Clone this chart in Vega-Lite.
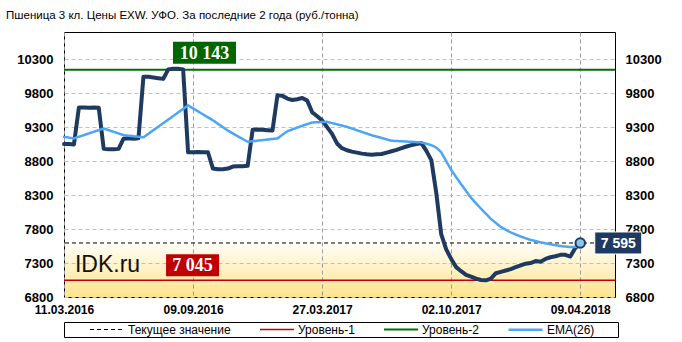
{
  "$schema": "https://vega.github.io/schema/vega-lite/v6.json",
  "width": 551,
  "height": 265,
  "autosize": {"type": "none"},
  "padding": {"left": 64, "top": 32, "right": 67, "bottom": 45},
  "background": "white",
  "title": {
    "text": "Пшеница  3 кл. Цены EXW. УФО. За последние 2 года (руб./тонна)",
    "anchor": "start",
    "frame": "group",
    "dx": -58,
    "offset": 11,
    "font": "Liberation Sans",
    "fontSize": 11.5,
    "fontWeight": "normal",
    "color": "black"
  },
  "config": {
    "locale": {"number": {"decimal": ",", "thousands": " ", "grouping": [3], "currency": ["", ""]}},
    "view": {
      "stroke": "black",
      "strokeWidth": 1,
      "fill": {
        "gradient": "linear", "x1": 0, "y1": 0, "x2": 0, "y2": 1,
        "stops": [
          {"offset": 0, "color": "#FFFFFF"},
          {"offset": 0.78, "color": "#FFFFFF"},
          {"offset": 1, "color": "#FFE48C"}
        ]
      }
    },
    "axis": {
      "labelFont": "Liberation Sans",
      "labelFontWeight": "bold",
      "labelColor": "black",
      "labelFontSize": 12,
      "domain": false,
      "ticks": false,
      "gridColor": "#BFBFBF",
      "gridDash": [4, 3],
      "gridWidth": 1,
      "gridOpacity": 1
    },
    "axisX": {"grid": true, "gridColor": "#9A9A9A"},
    "legend": {
      "orient": "none",
      "legendX": 0,
      "legendY": 290,
      "direction": "horizontal",
      "strokeColor": "black",
      "padding": 1,
      "symbolType": "M-3.4,0H3.4",
      "symbolSize": 100,
      "symbolOffset": 36,
      "labelFont": "Liberation Sans",
      "labelFontSize": 12,
      "labelColor": "black",
      "labelOffset": 15,
      "columnPadding": 4,
      "labelLimit": 300,
      "titleOrient": "right",
      "titlePadding": 23,
      "titleFontSize": 8
    }
  },
  "datasets": {
    "price": [
      {"i": 0, "v": 9050}, {"i": 1, "v": 9050}, {"i": 2, "v": 9045}, {"i": 3, "v": 9590}, {"i": 4, "v": 9590},
      {"i": 5, "v": 9585}, {"i": 6, "v": 9590}, {"i": 7, "v": 9585}, {"i": 8, "v": 8980}, {"i": 9, "v": 8975},
      {"i": 10, "v": 8975}, {"i": 11, "v": 8980}, {"i": 12, "v": 9130}, {"i": 13, "v": 9135}, {"i": 14, "v": 9130},
      {"i": 15, "v": 9135}, {"i": 16, "v": 10040}, {"i": 17, "v": 10040}, {"i": 18, "v": 10030}, {"i": 19, "v": 10020},
      {"i": 20, "v": 10010}, {"i": 21, "v": 10150}, {"i": 22, "v": 10160}, {"i": 23, "v": 10160}, {"i": 24, "v": 10150},
      {"i": 25, "v": 8930}, {"i": 26, "v": 8930}, {"i": 27, "v": 8935}, {"i": 28, "v": 8930}, {"i": 29, "v": 8930},
      {"i": 30, "v": 8690}, {"i": 31, "v": 8680}, {"i": 32, "v": 8680}, {"i": 33, "v": 8690}, {"i": 34, "v": 8720},
      {"i": 35, "v": 8725}, {"i": 36, "v": 8725}, {"i": 37, "v": 8730}, {"i": 38, "v": 9260}, {"i": 39, "v": 9265},
      {"i": 40, "v": 9260}, {"i": 41, "v": 9255}, {"i": 42, "v": 9250}, {"i": 43, "v": 9770}, {"i": 44, "v": 9760},
      {"i": 45, "v": 9720}, {"i": 46, "v": 9700}, {"i": 47, "v": 9710}, {"i": 48, "v": 9730}, {"i": 49, "v": 9690},
      {"i": 50, "v": 9520}, {"i": 51, "v": 9460}, {"i": 52, "v": 9400}, {"i": 53, "v": 9300}, {"i": 54, "v": 9200},
      {"i": 55, "v": 9060}, {"i": 56, "v": 8990}, {"i": 57, "v": 8960}, {"i": 58, "v": 8940}, {"i": 59, "v": 8925},
      {"i": 60, "v": 8910}, {"i": 61, "v": 8900}, {"i": 62, "v": 8895}, {"i": 63, "v": 8900}, {"i": 64, "v": 8905},
      {"i": 65, "v": 8925}, {"i": 66, "v": 8945}, {"i": 67, "v": 8965}, {"i": 68, "v": 8990}, {"i": 69, "v": 9015},
      {"i": 70, "v": 9035}, {"i": 71, "v": 9050}, {"i": 72, "v": 9065}, {"i": 73, "v": 8950}, {"i": 74, "v": 8815},
      {"i": 75, "v": 8330}, {"i": 76, "v": 7720}, {"i": 77, "v": 7500}, {"i": 78, "v": 7360}, {"i": 79, "v": 7240},
      {"i": 80, "v": 7180}, {"i": 81, "v": 7125}, {"i": 82, "v": 7100}, {"i": 83, "v": 7070}, {"i": 84, "v": 7050},
      {"i": 85, "v": 7045}, {"i": 86, "v": 7070}, {"i": 87, "v": 7150}, {"i": 88, "v": 7170}, {"i": 89, "v": 7190},
      {"i": 90, "v": 7210}, {"i": 91, "v": 7240}, {"i": 92, "v": 7265}, {"i": 93, "v": 7290}, {"i": 94, "v": 7300},
      {"i": 95, "v": 7330}, {"i": 96, "v": 7320}, {"i": 97, "v": 7360}, {"i": 98, "v": 7385}, {"i": 99, "v": 7400},
      {"i": 100, "v": 7420}, {"i": 101, "v": 7420}, {"i": 102, "v": 7395}, {"i": 103, "v": 7520}, {"i": 104, "v": 7595}
    ],
    "ema": [
      {"name": "EMA(26)", "i": 0, "v": 9157}, {"name": "EMA(26)", "i": 2, "v": 9134}, {"name": "EMA(26)", "i": 8, "v": 9280},
      {"name": "EMA(26)", "i": 12, "v": 9182}, {"name": "EMA(26)", "i": 16, "v": 9150}, {"name": "EMA(26)", "i": 25, "v": 9620},
      {"name": "EMA(26)", "i": 30, "v": 9400}, {"name": "EMA(26)", "i": 33, "v": 9250}, {"name": "EMA(26)", "i": 37, "v": 9084},
      {"name": "EMA(26)", "i": 43, "v": 9134}, {"name": "EMA(26)", "i": 45, "v": 9240}, {"name": "EMA(26)", "i": 48, "v": 9320},
      {"name": "EMA(26)", "i": 50, "v": 9369}, {"name": "EMA(26)", "i": 53, "v": 9378}, {"name": "EMA(26)", "i": 57, "v": 9304},
      {"name": "EMA(26)", "i": 62, "v": 9180}, {"name": "EMA(26)", "i": 66, "v": 9100}, {"name": "EMA(26)", "i": 72, "v": 9075},
      {"name": "EMA(26)", "i": 74, "v": 9035}, {"name": "EMA(26)", "i": 75, "v": 9000}, {"name": "EMA(26)", "i": 76, "v": 8930},
      {"name": "EMA(26)", "i": 78, "v": 8670}, {"name": "EMA(26)", "i": 80, "v": 8460}, {"name": "EMA(26)", "i": 82, "v": 8260},
      {"name": "EMA(26)", "i": 84, "v": 8100}, {"name": "EMA(26)", "i": 86, "v": 7950}, {"name": "EMA(26)", "i": 88, "v": 7830},
      {"name": "EMA(26)", "i": 90, "v": 7750}, {"name": "EMA(26)", "i": 92, "v": 7690}, {"name": "EMA(26)", "i": 94, "v": 7640},
      {"name": "EMA(26)", "i": 96, "v": 7605}, {"name": "EMA(26)", "i": 98, "v": 7575}, {"name": "EMA(26)", "i": 100, "v": 7550},
      {"name": "EMA(26)", "i": 102, "v": 7535}, {"name": "EMA(26)", "i": 104, "v": 7540}
    ],
    "levels": [
      {"name": "Текущее значение", "v": 7595},
      {"name": "Уровень-1", "v": 7045},
      {"name": "Уровень-2", "v": 10143}
    ]
  },
  "layer": [
    {
      "data": {"name": "levels"},
      "mark": {"type": "rule"},
      "encoding": {
        "y": {"field": "v", "type": "quantitative", "title": null, "axis": null,
              "scale": {"domain": [6800, 10700], "nice": false, "zero": false}},
        "color": {"field": "name", "type": "nominal", "title": " ",
                  "scale": {"domain": ["Текущее значение", "Уровень-1", "Уровень-2", "EMA(26)"],
                            "range": ["#000000", "#C00000", "#007000", "#4DA6F5"]}},
        "strokeDash": {"field": "name", "type": "nominal", "title": " ",
                       "scale": {"domain": ["Текущее значение", "Уровень-1", "Уровень-2", "EMA(26)"],
                                 "range": [[4, 3], [1, 0], [1, 0], [1, 0]]}},
        "strokeWidth": {"field": "name", "type": "ordinal", "title": " ",
                        "scale": {"domain": ["Текущее значение", "Уровень-1", "Уровень-2", "EMA(26)"],
                                  "range": [1, 2.5, 2.5, 3]}}
      }
    },
    {
      "data": {"name": "price"},
      "mark": {"type": "line", "color": "#1F3A60", "strokeWidth": 4, "strokeJoin": "round", "strokeCap": "round"},
      "encoding": {
        "x": {"field": "i", "type": "quantitative", "title": null,
              "scale": {"domain": [0, 111], "nice": false, "zero": false},
              "axis": {"values": [0, 26, 52, 78, 104], "grid": true, "labelFlush": false, "labelPadding": 7, "labelAngle": 0,
                       "labelExpr": "datum.value == 0 ? '11.03.2016' : datum.value == 26 ? '09.09.2016' : datum.value == 52 ? '27.03.2017' : datum.value == 78 ? '02.10.2017' : '09.04.2018'"}},
        "y": {"field": "v", "type": "quantitative", "title": null,
              "axis": {"orient": "left", "values": [6800, 7300, 7800, 8300, 8800, 9300, 9800, 10300],
                       "format": "d", "grid": true, "labelPadding": 11, "labelFontSize": 13}}
      }
    },
    {
      "data": {"name": "ema"},
      "mark": {"type": "line", "strokeJoin": "round", "strokeCap": "round"},
      "encoding": {
        "x": {"field": "i", "type": "quantitative", "title": null,
              "axis": {"values": [0, 26, 52, 78, 104], "grid": true, "labelFlush": false, "labelPadding": 7, "labelAngle": 0,
                       "labelExpr": "datum.value == 0 ? '11.03.2016' : datum.value == 26 ? '09.09.2016' : datum.value == 52 ? '27.03.2017' : datum.value == 78 ? '02.10.2017' : '09.04.2018'"}},
        "y": {"field": "v", "type": "quantitative", "title": null,
              "axis": {"orient": "right", "values": [6800, 7300, 7800, 8300, 8800, 9300, 9800, 10300],
                       "format": "d", "grid": false, "labelPadding": 10, "labelFontSize": 13}},
        "color": {"field": "name", "type": "nominal", "title": " ",
                  "scale": {"domain": ["Текущее значение", "Уровень-1", "Уровень-2", "EMA(26)"],
                            "range": ["#000000", "#C00000", "#007000", "#4DA6F5"]}},
        "strokeDash": {"field": "name", "type": "nominal", "title": " ",
                       "scale": {"domain": ["Текущее значение", "Уровень-1", "Уровень-2", "EMA(26)"],
                                 "range": [[4, 3], [1, 0], [1, 0], [1, 0]]}},
        "strokeWidth": {"field": "name", "type": "ordinal", "title": " ",
                        "scale": {"domain": ["Текущее значение", "Уровень-1", "Уровень-2", "EMA(26)"],
                                  "range": [1, 2.5, 2.5, 3]}}
      }
    },
    {
      "data": {"name": "price"},
      "transform": [{"filter": "datum.i == 104"}],
      "mark": {"type": "point", "shape": "circle", "filled": true, "fill": "#8CC6E8", "stroke": "#1F3A60", "strokeWidth": 2, "size": 90, "opacity": 1},
      "encoding": {
        "x": {"field": "i", "type": "quantitative", "title": null,
              "axis": {"values": [0, 26, 52, 78, 104], "grid": true, "labelFlush": false, "labelPadding": 7, "labelAngle": 0,
                       "labelExpr": "datum.value == 0 ? '11.03.2016' : datum.value == 26 ? '09.09.2016' : datum.value == 52 ? '27.03.2017' : datum.value == 78 ? '02.10.2017' : '09.04.2018'"}},
        "y": {"field": "v", "type": "quantitative", "axis": null}
      }
    },
    {
      "data": {"name": "levels"},
      "transform": [{"filter": "datum.name == 'Уровень-2'"}],
      "mark": {"type": "rect", "width": 63, "height": 22, "yOffset": -17, "fill": "#006600"},
      "encoding": {
        "x": {"datum": 28.3, "type": "quantitative", "title": null,
              "axis": {"values": [0, 26, 52, 78, 104], "grid": true, "labelFlush": false, "labelPadding": 7, "labelAngle": 0,
                       "labelExpr": "datum.value == 0 ? '11.03.2016' : datum.value == 26 ? '09.09.2016' : datum.value == 52 ? '27.03.2017' : datum.value == 78 ? '02.10.2017' : '09.04.2018'"}},
        "y": {"field": "v", "type": "quantitative", "axis": null}
      }
    },
    {
      "data": {"name": "levels"},
      "transform": [{"filter": "datum.name == 'Уровень-2'"}],
      "mark": {"type": "text", "yOffset": -16, "color": "white", "font": "Liberation Serif", "fontWeight": "bold", "fontSize": 18, "baseline": "middle", "align": "center"},
      "encoding": {
        "x": {"datum": 28.3, "type": "quantitative", "title": null,
              "axis": {"values": [0, 26, 52, 78, 104], "grid": true, "labelFlush": false, "labelPadding": 7, "labelAngle": 0,
                       "labelExpr": "datum.value == 0 ? '11.03.2016' : datum.value == 26 ? '09.09.2016' : datum.value == 52 ? '27.03.2017' : datum.value == 78 ? '02.10.2017' : '09.04.2018'"}},
        "y": {"field": "v", "type": "quantitative", "axis": null},
        "text": {"field": "v", "type": "quantitative", "format": ","}
      }
    },
    {
      "data": {"name": "levels"},
      "transform": [{"filter": "datum.name == 'Уровень-1'"}],
      "mark": {"type": "rect", "width": 53, "height": 22, "yOffset": -15, "fill": "#C00000"},
      "encoding": {
        "x": {"datum": 25.9, "type": "quantitative", "title": null,
              "axis": {"values": [0, 26, 52, 78, 104], "grid": true, "labelFlush": false, "labelPadding": 7, "labelAngle": 0,
                       "labelExpr": "datum.value == 0 ? '11.03.2016' : datum.value == 26 ? '09.09.2016' : datum.value == 52 ? '27.03.2017' : datum.value == 78 ? '02.10.2017' : '09.04.2018'"}},
        "y": {"field": "v", "type": "quantitative", "axis": null}
      }
    },
    {
      "data": {"name": "levels"},
      "transform": [{"filter": "datum.name == 'Уровень-1'"}],
      "mark": {"type": "text", "yOffset": -14, "color": "white", "font": "Liberation Serif", "fontWeight": "bold", "fontSize": 18, "baseline": "middle", "align": "center"},
      "encoding": {
        "x": {"datum": 25.9, "type": "quantitative", "title": null,
              "axis": {"values": [0, 26, 52, 78, 104], "grid": true, "labelFlush": false, "labelPadding": 7, "labelAngle": 0,
                       "labelExpr": "datum.value == 0 ? '11.03.2016' : datum.value == 26 ? '09.09.2016' : datum.value == 52 ? '27.03.2017' : datum.value == 78 ? '02.10.2017' : '09.04.2018'"}},
        "y": {"field": "v", "type": "quantitative", "axis": null},
        "text": {"field": "v", "type": "quantitative", "format": ","}
      }
    },
    {
      "data": {"name": "levels"},
      "transform": [{"filter": "datum.name == 'Текущее значение'"}],
      "mark": {"type": "rect", "width": 47, "height": 22, "xOffset": 38, "fill": "#1F3A60", "stroke": "white", "strokeWidth": 1},
      "encoding": {
        "x": {"datum": 104, "type": "quantitative", "title": null,
              "axis": {"values": [0, 26, 52, 78, 104], "grid": true, "labelFlush": false, "labelPadding": 7, "labelAngle": 0,
                       "labelExpr": "datum.value == 0 ? '11.03.2016' : datum.value == 26 ? '09.09.2016' : datum.value == 52 ? '27.03.2017' : datum.value == 78 ? '02.10.2017' : '09.04.2018'"}},
        "y": {"field": "v", "type": "quantitative", "axis": null}
      }
    },
    {
      "data": {"name": "levels"},
      "transform": [{"filter": "datum.name == 'Текущее значение'"}],
      "mark": {"type": "text", "xOffset": 38, "yOffset": 1, "color": "white", "font": "Liberation Sans", "fontWeight": "bold", "fontSize": 14, "baseline": "middle", "align": "center"},
      "encoding": {
        "x": {"datum": 104, "type": "quantitative", "title": null,
              "axis": {"values": [0, 26, 52, 78, 104], "grid": true, "labelFlush": false, "labelPadding": 7, "labelAngle": 0,
                       "labelExpr": "datum.value == 0 ? '11.03.2016' : datum.value == 26 ? '09.09.2016' : datum.value == 52 ? '27.03.2017' : datum.value == 78 ? '02.10.2017' : '09.04.2018'"}},
        "y": {"field": "v", "type": "quantitative", "axis": null},
        "text": {"field": "v", "type": "quantitative", "format": ","}
      }
    },
    {
      "data": {"values": [{"label": "IDK.ru"}]},
      "mark": {"type": "text", "color": "#111111", "font": "Liberation Sans", "fontSize": 23, "baseline": "middle", "align": "left"},
      "encoding": {
        "x": {"datum": 2.2, "type": "quantitative", "title": null,
              "axis": {"values": [0, 26, 52, 78, 104], "grid": true, "labelFlush": false, "labelPadding": 7, "labelAngle": 0,
                       "labelExpr": "datum.value == 0 ? '11.03.2016' : datum.value == 26 ? '09.09.2016' : datum.value == 52 ? '27.03.2017' : datum.value == 78 ? '02.10.2017' : '09.04.2018'"}},
        "y": {"datum": 7270, "type": "quantitative", "axis": null},
        "text": {"field": "label", "type": "nominal"}
      }
    }
  ]
}
